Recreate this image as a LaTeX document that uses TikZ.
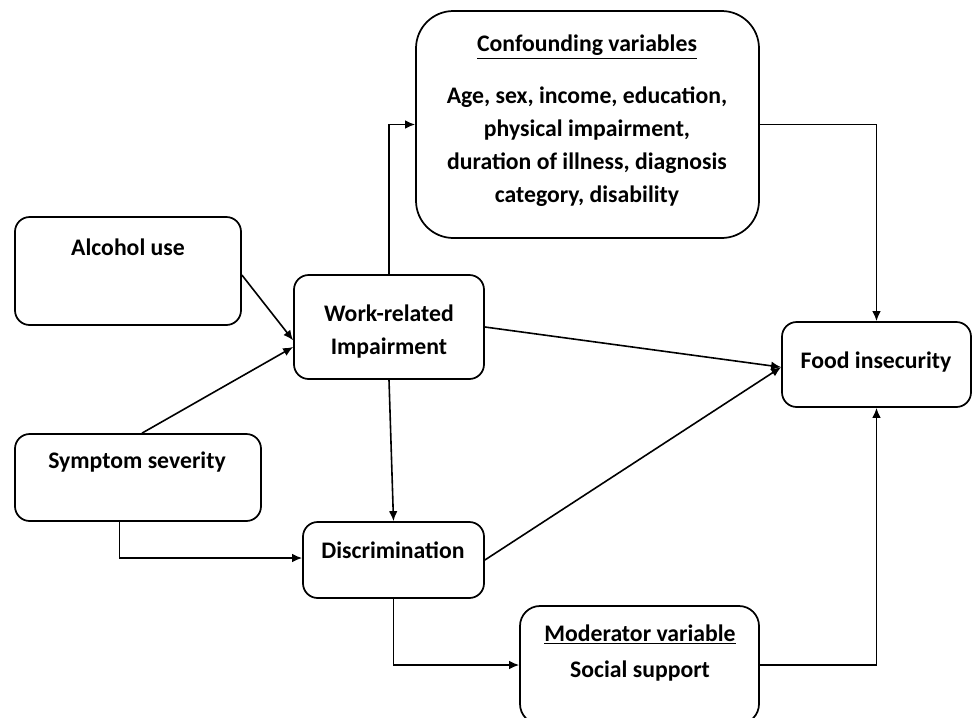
\documentclass[tikz,border=0pt]{standalone}
\usepackage{fontspec}
\setmainfont{Carlito}
\usetikzlibrary{arrows.meta,positioning}

\begin{document}
\begin{tikzpicture}[x=0.75pt,y=-0.75pt,
	box/.style={rectangle,draw=black,line width=1.3pt,rounded corners=11pt,inner sep=0pt},
	txt/.style={font=\fontsize{17.8}{24.8}\selectfont\bfseries,align=center,inner sep=0pt},
	arr/.style={-{Latex[length=7.5pt,width=6.5pt]},line width=1.2pt}]
	\useasboundingbox (0,0) rectangle (972,718);
	% boxes
	\node[box,minimum width=169.5pt,minimum height=81pt] (alc) at (128,271) {};
	\node[box,minimum width=142.5pt,minimum height=78pt] (wri) at (389,327) {};
	\node[box,minimum width=257.25pt,minimum height=170.25pt,rounded corners=28pt] (conf) at (587.5,124.5) {};
	\node[box,minimum width=184.5pt,minimum height=65.25pt] (sym) at (138,477.5) {};
	\node[box,minimum width=135.75pt,minimum height=57pt] (dis) at (393.5,560) {};
	\node[box,minimum width=179.25pt,minimum height=88.5pt,rounded corners=15pt] (mod) at (639.5,665) {};
	\node[box,minimum width=141.75pt,minimum height=63.75pt] (food) at (876.5,364.5) {};
	% texts
	\node[txt] (alcT) at (128,247) {Alcohol use};
	\node[txt] (wriT) at (389,331.5) {Work-related\\Impairment};
	\node[txt] (confT) at (587,47) {\underline{Confounding variables}};
	\node[txt] (confB) at (587,147) {Age, sex, income, education,\\physical impairment,\\duration of illness, diagnosis\\category, disability};
	\node[txt] (symT) at (137,462) {Symptom severity};
	\node[txt] (disT) at (393,550) {Discrimination};
	\node[txt] (modT) at (640,653) {\underline{Moderator variable}\\[2pt]Social support};
	\node[txt] (foodT) at (876,362) {Food insecurity};
	% connectors
	\draw[arr] ([yshift=-3pt]alc.east) -- ([yshift=-10pt]wri.west);
	\draw[arr] ([xshift=3pt]sym.north) -- ([yshift=-15pt]wri.west);
	\draw[arr] (wri.north) |- (conf.west);
	\draw[arr] (conf.east) -| (food.north);
	\draw[arr] (wri.east) -- ([yshift=-2pt]food.west);
	\draw[arr] (dis.east) -- ([yshift=-2pt]food.west);
	\draw[arr] (wri.south) -- (dis.north);
	\draw[arr] ([xshift=-14pt]sym.south) |- ([yshift=1.5pt]dis.west);
	\draw[arr] (dis.south) |- (mod.west);
	\draw[arr] (mod.east) -| (food.south);
\end{tikzpicture}
\end{document}
